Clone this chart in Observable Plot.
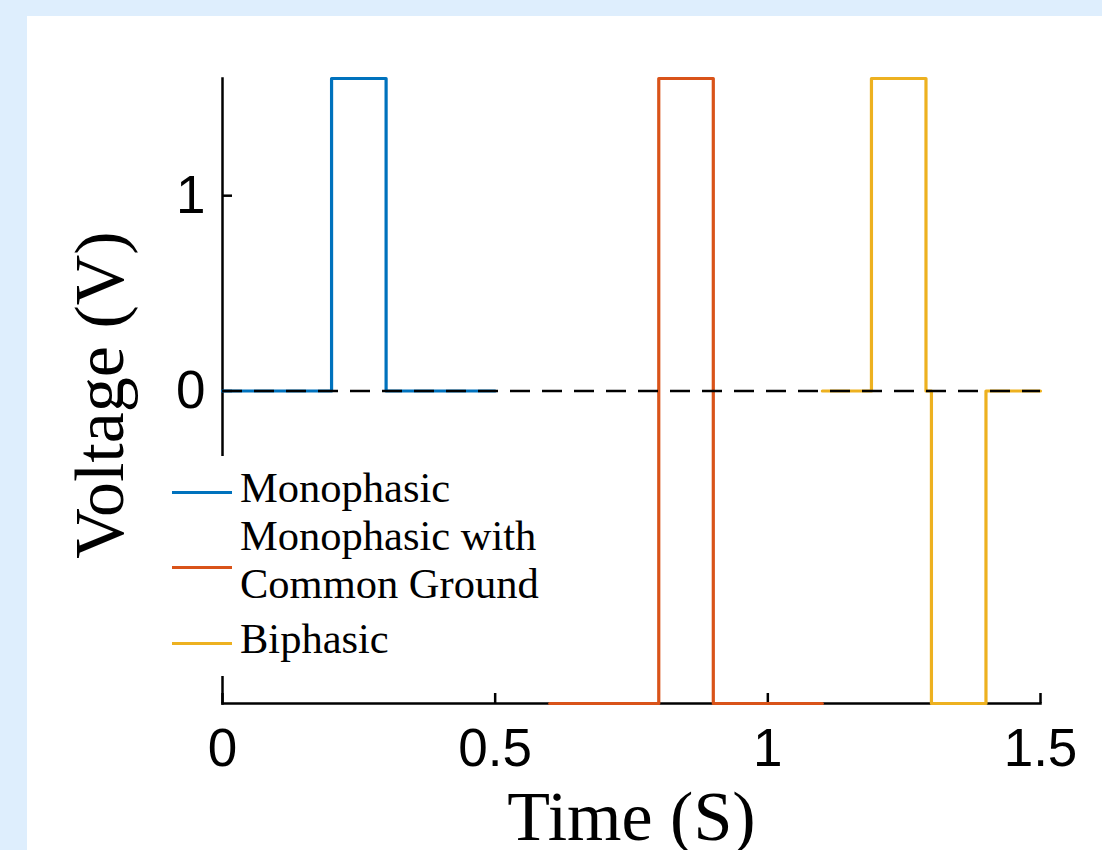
<!DOCTYPE html>
<html>
<head>
<meta charset="utf-8">
<script src="https://cdn.jsdelivr.net/npm/d3@7"></script>
<script src="https://cdn.jsdelivr.net/npm/@observablehq/plot@0.6"></script>
<style>
  html, body { margin: 0; padding: 0; }
  body { width: 1102px; height: 850px; background: #deeefd; position: relative; overflow: hidden; }
  #panel { position: absolute; left: 27px; top: 16px; right: 0; bottom: 0; background: #ffffff; }
  #chart { position: absolute; left: 0; top: 0; }
  #chart svg { background: transparent; overflow: visible; }
  #legend { position: absolute; left: 160px; top: 456px; width: 392px; height: 220px; background: #ffffff; }
  .lg-row { position: absolute; left: 0; }
  .lg-swatch { position: absolute; left: 12px; width: 60px; height: 3px; }
  .lg-text { position: absolute; left: 80px; white-space: pre; font-family: "Liberation Serif", "Times New Roman", serif; font-size: 42.5px; line-height: 48px; color: #000; }
</style>
</head>
<body>
<div id="panel"></div>
<div id="chart"></div>
<div id="legend"></div>
<script>
// ---- data ----
const seriesNames = ["Monophasic", "Monophasic with Common Ground", "Biphasic"];
const legendLabels = ["Monophasic", "Monophasic with\nCommon Ground", "Biphasic"];
const seriesColors = ["#0072BD", "#D95319", "#EDB120"];

const monoTime = [0, 0.2, 0.3, 0.5];
const monoVolt = [0, 1.6, 0, 0];

const commonTime = [0.6, 0.8, 0.9, 1.1];
const commonVolt = [-1.6, 1.6, -1.6, -1.6];

const biTime = [1.1, 1.19, 1.29, 1.3, 1.4, 1.5];
const biVolt = [0, 1.6, 0, -1.6, 0, 0];

const xTicks = [0, 0.5, 1, 1.5];
const xTickLabels = ["0", "0.5", "1", "1.5"];
const yTicks = [0, 1];
const yTickLabels = ["0", "1"];
const xDomain = [0, 1.5];
const yDomain = [-1.6, 1.6];
const xLabel = "Time (S)";
const yLabel = "Voltage (V)";

// ---- build table ----
const allTimes = [monoTime, commonTime, biTime];
const allVolts = [monoVolt, commonVolt, biVolt];
const rows = [];
seriesNames.forEach((name, i) => {
  allTimes[i].forEach((t, j) => rows.push({series: name, t, v: allVolts[i][j]}));
});

const sans = "'Liberation Sans', Arial, Helvetica, sans-serif";
const serif = "'Liberation Serif', 'Times New Roman', serif";

const chart = Plot.plot({
  width: 1102,
  height: 850,
  marginLeft: 222,
  marginRight: 62,
  marginTop: 78,
  marginBottom: 147,
  style: {background: "transparent", color: "#000"},
  x: {domain: xDomain},
  y: {domain: yDomain},
  color: {domain: seriesNames, range: seriesColors},
  marks: [
    // axis lines
    Plot.frame({anchor: "left", stroke: "#000", strokeWidth: 2.5}),
    Plot.frame({anchor: "bottom", stroke: "#000", strokeWidth: 2.5}),
    // inward ticks
    Plot.axisX({ticks: xTicks, tickSize: -10, tickFormat: () => "", strokeWidth: 2.5, label: null}),
    Plot.axisY({ticks: yTicks, tickSize: -10, tickFormat: () => "", strokeWidth: 2.5, label: null}),
    // tick labels
    Plot.axisX({ticks: xTicks, tickSize: 0, tickPadding: 25, tickFormat: d => xTickLabels[xTicks.indexOf(d)],
      fontSize: 53, fontFamily: sans, label: null}),
    Plot.axisY({ticks: yTicks, tickSize: 0, tickPadding: 17, tickFormat: d => yTickLabels[yTicks.indexOf(d)],
      fontSize: 53, fontFamily: sans, label: null}),
    // axis titles
    Plot.text([xLabel], {frameAnchor: "bottom", textAnchor: "middle", lineAnchor: "bottom", dy: 136, fontSize: 70, fontFamily: serif, fill: "#000"}),
    Plot.text([yLabel], {frameAnchor: "left", textAnchor: "middle", lineAnchor: "bottom", rotate: -90, dx: -100, dy: 4, fontSize: 70, fontFamily: serif, fill: "#000"}),
    // series
    Plot.line(rows, {x: "t", y: "v", z: "series", stroke: "series", curve: "step-after", strokeWidth: 3.2}),
    // zero reference
    Plot.ruleY([0], {stroke: "#000", strokeWidth: 2.6, strokeDasharray: "20,12"})
  ]
});
document.getElementById("chart").appendChild(chart);

// ---- legend ----
const legend = document.getElementById("legend");
const rowTops = [8, 56, 159];
const swatchOffsets = [28, 55, 28];
legendLabels.forEach((lab, i) => {
  const row = document.createElement("div");
  row.className = "lg-row";
  row.style.top = rowTops[i] + "px";
  const sw = document.createElement("div");
  sw.className = "lg-swatch";
  sw.style.top = (swatchOffsets[i] - 1.5) + "px";
  sw.style.background = seriesColors[i];
  const tx = document.createElement("div");
  tx.className = "lg-text";
  tx.style.top = "0px";
  tx.textContent = lab;
  row.appendChild(sw);
  row.appendChild(tx);
  legend.appendChild(row);
});
</script>
</body>
</html>
